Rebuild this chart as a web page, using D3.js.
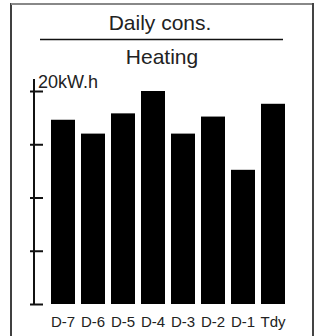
<!DOCTYPE html>
<html>
<head>
<meta charset="utf-8">
<script src="https://cdn.jsdelivr.net/npm/d3@7"></script>
<style>
  body { margin: 0; background: #fff; }
  text { font-family: "Liberation Sans", Arial, sans-serif; fill: #222; }
</style>
</head>
<body>
<div id="chart"></div>
<script>
// Data
var days = ["D-7", "D-6", "D-5", "D-4", "D-3", "D-2", "D-1", "Tdy"];
var heating = [17.3, 16.0, 17.9, 20.0, 16.0, 17.6, 12.6, 18.8];
var yTicks = [0, 5, 10, 15, 20];
var title = "Daily cons.";
var subtitle = "Heating";
var unitLabel = "20kW.h";

var svgWidth = 321;
var svgHeight = 336;

var svg = d3.select("#chart")
  .append("svg")
  .attr("width", svgWidth)
  .attr("height", svgHeight);

// frame
svg.append("line").attr("x1", 11).attr("x2", 11).attr("y1", 3).attr("y2", svgHeight)
  .attr("stroke", "#000").attr("stroke-width", 1.5);
svg.append("line").attr("x1", 11).attr("x2", 314).attr("y1", 4).attr("y2", 4)
  .attr("stroke", "#888").attr("stroke-width", 2);
svg.append("line").attr("x1", 313).attr("x2", 313).attr("y1", 3).attr("y2", svgHeight)
  .attr("stroke", "#444").attr("stroke-width", 2);

// titles
svg.append("text")
  .attr("x", 160).attr("y", 30)
  .attr("text-anchor", "middle")
  .attr("font-size", "21px")
  .text(title);

svg.append("line")
  .attr("x1", 40).attr("x2", 283).attr("y1", 39.5).attr("y2", 39.5)
  .attr("stroke", "#111").attr("stroke-width", 1.5);

svg.append("text")
  .attr("x", 162).attr("y", 64)
  .attr("text-anchor", "middle")
  .attr("font-size", "21px")
  .text(subtitle);

// scales
var x = d3.scaleBand()
  .domain(days)
  .range([48, 288])
  .paddingInner(0.2)
  .paddingOuter(0.1);

var y = d3.scaleLinear()
  .domain([0, 20])
  .range([304, 91]);

// bars
svg.selectAll(".bar")
  .data(heating)
  .enter()
  .append("rect")
  .attr("class", "bar")
  .attr("x", function(d, i) { return x(days[i]); })
  .attr("y", function(d) { return y(d); })
  .attr("width", x.bandwidth())
  .attr("height", function(d) { return y(0) - y(d); })
  .attr("fill", "#000");

// y axis
var axisX = 34;
var yAxis = svg.append("g")
  .attr("transform", "translate(" + axisX + ",0)")
  .call(d3.axisLeft(y).tickValues(yTicks).tickSize(-9).tickFormat(""));
yAxis.select(".domain").remove();
yAxis.selectAll(".tick line")
  .attr("x1", -4).attr("x2", 9)
  .attr("stroke", "#111").attr("stroke-width", 2);

svg.append("line")
  .attr("x1", axisX).attr("x2", axisX)
  .attr("y1", 79).attr("y2", y(0) + 1)
  .attr("stroke", "#111").attr("stroke-width", 2);

svg.append("text")
  .attr("x", 38).attr("y", 88)
  .attr("font-size", "18px")
  .text(unitLabel);

// x labels
svg.selectAll(".xlab")
  .data(days)
  .enter()
  .append("text")
  .attr("class", "xlab")
  .attr("x", function(d) { return x(d) + x.bandwidth() / 2; })
  .attr("y", 327)
  .attr("text-anchor", "middle")
  .attr("font-size", "15px")
  .text(function(d) { return d; });
</script>
</body>
</html>
